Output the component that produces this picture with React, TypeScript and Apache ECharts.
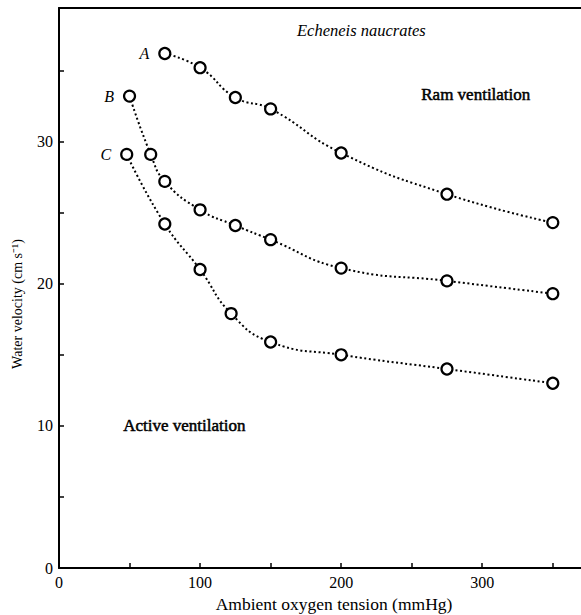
import React, { useEffect, useRef } from "react";
import * as echarts from "echarts";

const seriesNames = ["A", "B", "C"];
const xA = [75, 100, 125, 150, 200, 275, 350];
const yA = [36.2, 35.2, 33.1, 32.3, 29.2, 26.3, 24.3];
const xB = [50, 65, 75, 100, 125, 150, 200, 275, 350];
const yB = [33.2, 29.1, 27.2, 25.2, 24.1, 23.1, 21.1, 20.2, 19.3];
const xC = [48, 75, 100, 122, 150, 200, 275, 350];
const yC = [29.1, 24.2, 21.0, 17.9, 15.9, 15.0, 14.0, 13.0];
const xTickLabels = ["0", "100", "200", "300"];
const yTickLabels = ["0", "10", "20", "30"];

const FONT = "'Liberation Serif', 'Times New Roman', serif";

export default function App() {
  const ref = useRef<HTMLDivElement>(null);
  useEffect(() => {
    if (!ref.current) return;
    const chart = echarts.init(ref.current, null, { renderer: "svg" });
    const mk = (name: string, xs: number[], ys: number[]) => ({
      type: "line",
      name,
      smooth: 0.5,
      symbol: "circle",
      symbolSize: 11,
      itemStyle: { color: "#fff", borderColor: "#000", borderWidth: 2.2 },
      lineStyle: { color: "#000", width: 2, type: [2, 2.6] },
      z: 3,
      data: xs.map((x, i) =>
        i === 0
          ? {
              value: [x, ys[i]],
              label: {
                show: true,
                formatter: name,
                position: "left",
                distance: 9,
                fontFamily: FONT,
                fontStyle: "italic",
                fontSize: 16,
                color: "#000",
              },
            }
          : { value: [x, ys[i]] }
      ),
    });
    chart.setOption({
      animation: false,
      backgroundColor: "#fff",
      grid: { left: 59, top: 8, right: 0, bottom: 47, containLabel: false, outerBoundsMode: "none" },
      xAxis: [
        {
          type: "value",
          min: 0,
          max: 370,
          interval: 50,
          name: "Ambient oxygen tension (mmHg)",
          nameLocation: "middle",
          nameGap: 23,
          nameTextStyle: { fontFamily: FONT, fontSize: 17.5, color: "#000", padding: [0, 0, 0, 28] },
          axisLine: { show: true, lineStyle: { color: "#000", width: 2 } },
          axisTick: { show: true, inside: true, length: 5, lineStyle: { color: "#000", width: 1.5 } },
          axisLabel: {
            fontFamily: FONT,
            fontSize: 16,
            color: "#000",
            margin: 6,
            showMaxLabel: false,
            formatter: (v: number) => (xTickLabels.includes(String(v)) ? String(v) : ""),
          },
          splitLine: { show: false },
        },
        {
          type: "value",
          position: "top",
          min: 0,
          max: 370,
          axisLine: { show: true, lineStyle: { color: "#000", width: 2 } },
          axisTick: { show: false },
          axisLabel: { show: false },
          splitLine: { show: false },
        },
      ],
      yAxis: {
        type: "value",
        min: 0,
        max: 39.4,
        interval: 5,
        name: "Water velocity (cm s\u207B\u00B9)",
        nameLocation: "middle",
        nameGap: 35,
        nameTextStyle: { fontFamily: FONT, fontSize: 14, color: "#000", padding: [0, 32, 0, 0] },
        axisLine: { show: true, lineStyle: { color: "#000", width: 2 } },
        axisTick: { show: true, inside: true, length: 5, lineStyle: { color: "#000", width: 1.5 } },
        axisLabel: {
          fontFamily: FONT,
          fontSize: 16,
          color: "#000",
          margin: 6,
          showMaxLabel: false,
          formatter: (v: number) => (yTickLabels.includes(String(v)) ? String(v) : ""),
        },
        splitLine: { show: false },
      },
      graphic: [
        {
          type: "text",
          left: 297,
          top: 22,
          style: { text: "Echeneis naucrates", font: `italic 16.5px ${FONT}`, fill: "#000" },
        },
        {
          type: "text",
          left: 421,
          top: 86,
          style: { text: "Ram ventilation", font: `17px ${FONT}`, fill: "#000", stroke: "#000", lineWidth: 0.5 },
        },
        {
          type: "text",
          left: 123,
          top: 417,
          style: { text: "Active ventilation", font: `17px ${FONT}`, fill: "#000", stroke: "#000", lineWidth: 0.5 },
        },
      ],
      series: [mk(seriesNames[0], xA, yA), mk(seriesNames[1], xB, yB), mk(seriesNames[2], xC, yC)],
    });
    return () => chart.dispose();
  }, []);
  return (
    <div
      ref={ref}
      style={{ position: "absolute", left: 0, top: 0, width: 581, height: 615 }}
    />
  );
}
